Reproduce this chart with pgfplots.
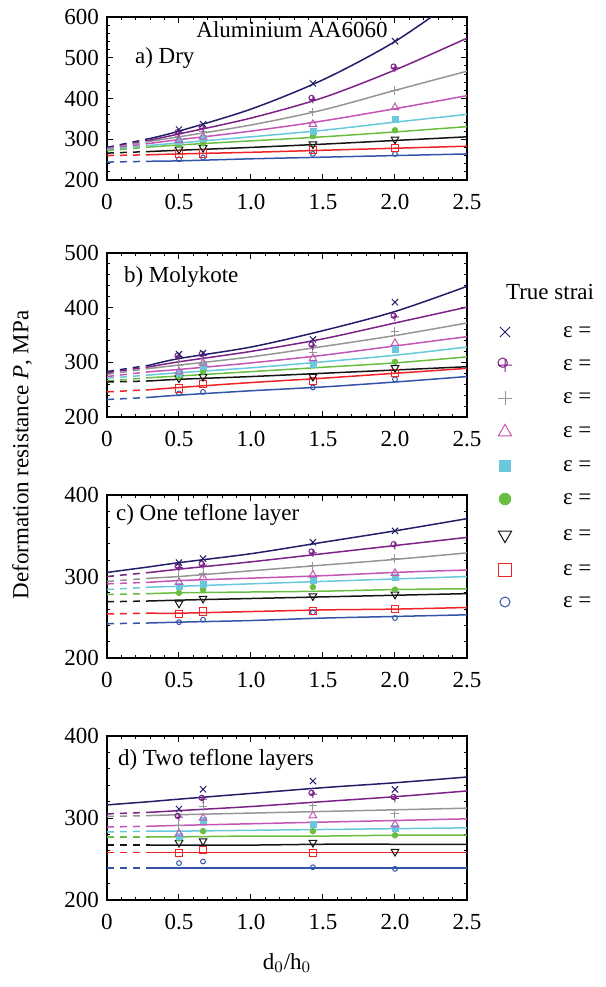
\documentclass[border=0pt]{standalone}
\usepackage{fontspec}
\setmainfont{Liberation Serif}
\usepackage{pgfplots}
\usepackage{pgfplotstable}
\pgfplotsset{compat=1.18}

\definecolor{cnavy}{RGB}{35,30,105}
\definecolor{cpurple}{RGB}{125,35,135}
\definecolor{cgray}{RGB}{150,150,150}
\definecolor{cpink}{RGB}{195,85,180}
\definecolor{ccyan}{RGB}{105,200,220}
\definecolor{cgreen}{RGB}{105,190,65}
\definecolor{cblack}{RGB}{20,20,20}
\definecolor{cred}{RGB}{240,35,40}
\definecolor{cblue}{RGB}{50,85,170}

\newcommand{\fs}{\fontsize{11.5}{13}\selectfont}

% circle sitting up-left on a plus
\pgfdeclareplotmark{circplus}{%
  \pgfpathcircle{\pgfpoint{-0.33\pgfplotmarksize}{0.33\pgfplotmarksize}}{0.67\pgfplotmarksize}%
  \pgfpathmoveto{\pgfpoint{-\pgfplotmarksize}{0pt}}%
  \pgfpathlineto{\pgfpoint{\pgfplotmarksize}{0pt}}%
  \pgfpathmoveto{\pgfpoint{0pt}{0.8\pgfplotmarksize}}%
  \pgfpathlineto{\pgfpoint{0pt}{-\pgfplotmarksize}}%
  \pgfusepathqstroke
}

\tikzset{
  dsh/.style={dash pattern=on 3.5pt off 3pt},
  l1/.style={cnavy, line width=0.75pt},
  l2/.style={cpurple, line width=0.75pt},
  l3/.style={cgray, line width=0.75pt},
  l4/.style={cpink, line width=0.75pt},
  l5/.style={ccyan, line width=0.75pt},
  l6/.style={cgreen, line width=0.75pt},
  l7/.style={cblack, line width=0.75pt},
  l8/.style={cred, line width=0.75pt},
  l9/.style={cblue, line width=0.75pt},
  m1/.style={only marks, cnavy, mark=x, mark size=2.2pt, mark options={line width=0.5pt}},
  m2/.style={only marks, cpurple, mark=circplus, mark size=2pt, mark options={line width=0.5pt}},
  m3/.style={only marks, cgray, mark=+, mark size=2.2pt, mark options={line width=0.5pt}},
  m4/.style={only marks, cpink, mark=triangle, mark size=2.2pt, mark options={line width=0.5pt}},
  m5/.style={only marks, ccyan, mark=square*, mark size=1.5pt},
  m6/.style={only marks, cgreen, mark=*, mark size=1.4pt},
  m7/.style={only marks, cblack, mark=triangle, mark size=2.2pt, mark options={rotate=180, line width=0.5pt}},
  m8/.style={only marks, cred, mark=square, mark size=1.8pt, mark options={line width=0.5pt}},
  m9/.style={only marks, cblue, mark=o, mark size=1.2pt, mark options={line width=0.5pt}},
}

\pgfplotsset{
  panel/.style={
    scale only axis, width=180pt, anchor=south west,
    xmin=0, xmax=2.5,
    xtick={0,0.5,1,1.5,2,2.5},
    xticklabels={0,0.5,1.0,1.5,2.0,2.5},
    minor x tick num=4, minor y tick num=4,
    tick align=inside,
    major tick length=3pt, minor tick length=1.5pt,
    axis line style={line width=1pt},
    every tick/.style={black, line width=0.5pt},
    ticklabel style={font=\fs},
    xticklabel style={yshift=-3pt},
    /pgf/number format/assume math mode=true,
  },
}

% panel a) Dry
\pgfplotstableread{
x s1 s2 s3 s4 s5 s6 s7 s8 s9
0 280 278 277 276 274 272 266 260 244
0.3 302 298 295 290 285 281 270 262 246
}\dashA
\pgfplotstableread{
x s1 s2 s3 s4 s5 s6 s7 s8 s9
0.3 302 298 295 290 285 281 270 262 246
0.5 320 313 306 299 291 286 273 264 247
1.0 374 352 335 320 306 296 280 268 252
1.5 446 402 372 345 322 306 288 273 256
2.0 540 470 420 375 342 318 297 278 260
2.5 662 548 467 407 361 331 306 283 264
}\lineA
\pgfplotstableread{
x s1 s2 s3 s4 s5 s6 s7 s8 s9
0.5 324 314 306 298 294 286 275 264 251
0.667 337 327 318 306 302 290 279 265 255
1.43 437 398 367 337 320 308 288 273 264
2.0 541 475 419 378 349 322 300 278 264
}\markA

% panel b) Molykote
\pgfplotstableread{
x s1 s2 s3 s4 s5 s6 s7 s8 s9
0 283 281 278 274 271 266 264 246 232
0.3 295 292 289 283 277 272 266 250 236
}\dashB
\pgfplotstableread{
x s1 s2 s3 s4 s5 s6 s7 s8 s9
0.3 295 292 289 283 277 272 266 250 236
0.5 307 301 295 287 281 275 269 254 240
1.0 328 320 310 299 290 283 274 263 248
1.5 358 343 329 313 301 291 280 271 255
2.0 393 372 349 330 313 299 286 280 264
2.5 439 401 372 347 328 310 292 289 274
}\lineB
\pgfplotstableread{
x s1 s2 s3 s4 s5 s6 s7 s8 s9
0.5 315 310 295 283 280 274 271 252 243
0.667 317 313 300 299 293 283 274 260 246
1.43 342 330 318 307 296 299 274 266 254
2.0 410 383 356 335 323 301 290 280 269
}\markB

% panel c) One teflone layer
\pgfplotstableread{
x s1 s2 s3 s4 s5 s6 s7 s8 s9
0 305 300 294 291 284 278 269 254 242
0.3 312 305 298 293 287 279 270 255 243
}\dashC
\pgfplotstableread{
x s1 s2 s3 s4 s5 s6 s7 s8 s9
0.3 312 305 298 293 287 279 270 255 243
0.5 317 309 300 295 288 280 271 255 244
1.0 328 318 307 298 291 281 273 257 246
1.5 342 328 314 301 294 282 275 259 249
2.0 356 338 321 305 297 284 277 260 251
2.5 371 348 329 308 300 285 279 262 253
}\lineC
\pgfplotstableread{
x s1 s2 s3 s4 s5 s6 s7 s8 s9
0.5 317 311 300 293 288 280 267 254 244
0.667 322 314 304 299 290 284 273 257 247
1.43 342 329 313 302 295 287 276 258 256
2.0 356 338 322 304 299 284 278 260 249
}\markC

% panel d) Two teflone layers
\pgfplotstableread{
x s1 s2 s3 s4 s5 s6 s7 s8 s9
0 316 305 302 289 283 277 267 258 239
0.3 320 307 303 290 284 277 267 258 239
}\dashD
\pgfplotstableread{
x s1 s2 s3 s4 s5 s6 s7 s8 s9
0.3 320 307 303 290 284 277 267 258 239
0.5 323 309 304 291 284 277 267 258 239
1.0 330 314 306 293 285 278 267 258 239
1.5 337 320 308 295 286 278 268 258 239
2.0 343 326 310 297 287 279 268 258 239
2.5 350 333 312 299 288 279 268 258 239
}\lineD
\pgfplotstableread{
x s1 s2 s3 s4 s5 s6 s7 s8 s9
0.5 311 301 291 281 278 275 270 257 245
0.667 335 323 314 300 297 284 272 261 247
1.43 345 329 315 303 292 284 270 257 240
2.0 335 324 305 292 287 279 259 nan 238
}\markD

% #1 dashed part, #2 fitted line, #3 measured points, #4 style of the first series near 0
\newcommand{\drawpanel}[4]{%
  \addplot[l1, #4] table[x=x, y=s1] {#1};
  \addplot[l2, dsh] table[x=x, y=s2] {#1};
  \addplot[l3, dsh] table[x=x, y=s3] {#1};
  \addplot[l4, dsh] table[x=x, y=s4] {#1};
  \addplot[l5, dsh] table[x=x, y=s5] {#1};
  \addplot[l6, dsh] table[x=x, y=s6] {#1};
  \addplot[l7, dsh] table[x=x, y=s7] {#1};
  \addplot[l8, dsh] table[x=x, y=s8] {#1};
  \addplot[l9, dsh] table[x=x, y=s9] {#1};
  \addplot[l9, smooth] table[x=x, y=s9] {#2};
  \addplot[l8, smooth] table[x=x, y=s8] {#2};
  \addplot[l7, smooth] table[x=x, y=s7] {#2};
  \addplot[l6, smooth] table[x=x, y=s6] {#2};
  \addplot[l5, smooth] table[x=x, y=s5] {#2};
  \addplot[l4, smooth] table[x=x, y=s4] {#2};
  \addplot[l3, smooth] table[x=x, y=s3] {#2};
  \addplot[l2, smooth] table[x=x, y=s2] {#2};
  \addplot[l1, smooth] table[x=x, y=s1] {#2};
  \addplot[m9] table[x=x, y=s9] {#3};
  \addplot[m8] table[x=x, y=s8] {#3};
  \addplot[m7] table[x=x, y=s7] {#3};
  \addplot[m6] table[x=x, y=s6] {#3};
  \addplot[m5] table[x=x, y=s5] {#3};
  \addplot[m4] table[x=x, y=s4] {#3};
  \addplot[m3] table[x=x, y=s3] {#3};
  \addplot[m2] table[x=x, y=s2] {#3};
  \addplot[m1] table[x=x, y=s1] {#3};
}

\begin{document}
\fs
\begin{tikzpicture}

\begin{axis}[panel, at={(53.5pt,-90pt)}, height=81.5pt,
    ymin=200, ymax=600, ytick={200,300,...,600}]
  \drawpanel{\dashA}{\lineA}{\markA}{dsh}
\end{axis}

\begin{axis}[panel, at={(53.5pt,-208.5pt)}, height=82pt,
    ymin=200, ymax=500, ytick={200,300,...,500}]
  \drawpanel{\dashB}{\lineB}{\markB}{dsh}
\end{axis}

\begin{axis}[panel, at={(53.5pt,-329pt)}, height=81.5pt,
    ymin=200, ymax=400, ytick={200,300,400}]
  \drawpanel{\dashC}{\lineC}{\markC}{solid}
\end{axis}

\begin{axis}[panel, at={(53.5pt,-450pt)}, height=82pt,
    ymin=200, ymax=400, ytick={200,300,400}]
  \drawpanel{\dashD}{\lineD}{\markD}{solid}
\end{axis}

% texts and legend, in pixel units of the whole figure
\begin{axis}[at={(0pt,-493.5pt)}, anchor=south west, scale only axis,
    width=303pt, height=493.5pt, hide axis, clip=false,
    xmin=0, xmax=606, ymin=-987, ymax=0]
  \node[anchor=center] at (axis cs:292,-30) {Aluminium AA6060};
  \node[anchor=west] at (axis cs:127,-58) {a) Dry};
  \node[anchor=west] at (axis cs:116,-277) {b) Molykote};
  \node[anchor=west] at (axis cs:108,-515) {c) One teflone layer};
  \node[anchor=west] at (axis cs:110,-760) {d) Two teflone layers};
  \node[rotate=90] at (axis cs:22,-455) {Deformation resistance \textit{P}, MPa};
  \node at (axis cs:287,-963) {d$_0$/h$_0$};

  \node[anchor=west] at (axis cs:498,-292) {True strai};
  \addplot[m1, mark size=3.6pt] coordinates {(505,-332)};
  \addplot[m2, mark size=3.5pt] coordinates {(505,-365)};
  \addplot[m3, mark size=3.6pt] coordinates {(505,-398)};
  \addplot[m4, mark size=3.8pt] coordinates {(505,-432)};
  \addplot[m5, mark size=2.8pt] coordinates {(505,-466)};
  \addplot[m6, mark size=2.9pt] coordinates {(505,-499)};
  \addplot[m7, mark size=3.8pt] coordinates {(505,-535)};
  \addplot[m8, mark size=3.2pt] coordinates {(505,-570)};
  \addplot[m9, mark size=2.5pt] coordinates {(505,-602)};
  \node[anchor=west] at (axis cs:555,-332) {ε =};
  \node[anchor=west] at (axis cs:555,-365) {ε =};
  \node[anchor=west] at (axis cs:555,-398) {ε =};
  \node[anchor=west] at (axis cs:555,-432) {ε =};
  \node[anchor=west] at (axis cs:555,-466) {ε =};
  \node[anchor=west] at (axis cs:555,-499) {ε =};
  \node[anchor=west] at (axis cs:555,-535) {ε =};
  \node[anchor=west] at (axis cs:555,-570) {ε =};
  \node[anchor=west] at (axis cs:555,-602) {ε =};
\end{axis}

\pgfresetboundingbox
\path[use as bounding box] (0,0) rectangle (303pt,-493.5pt);
\end{tikzpicture}
\end{document}
